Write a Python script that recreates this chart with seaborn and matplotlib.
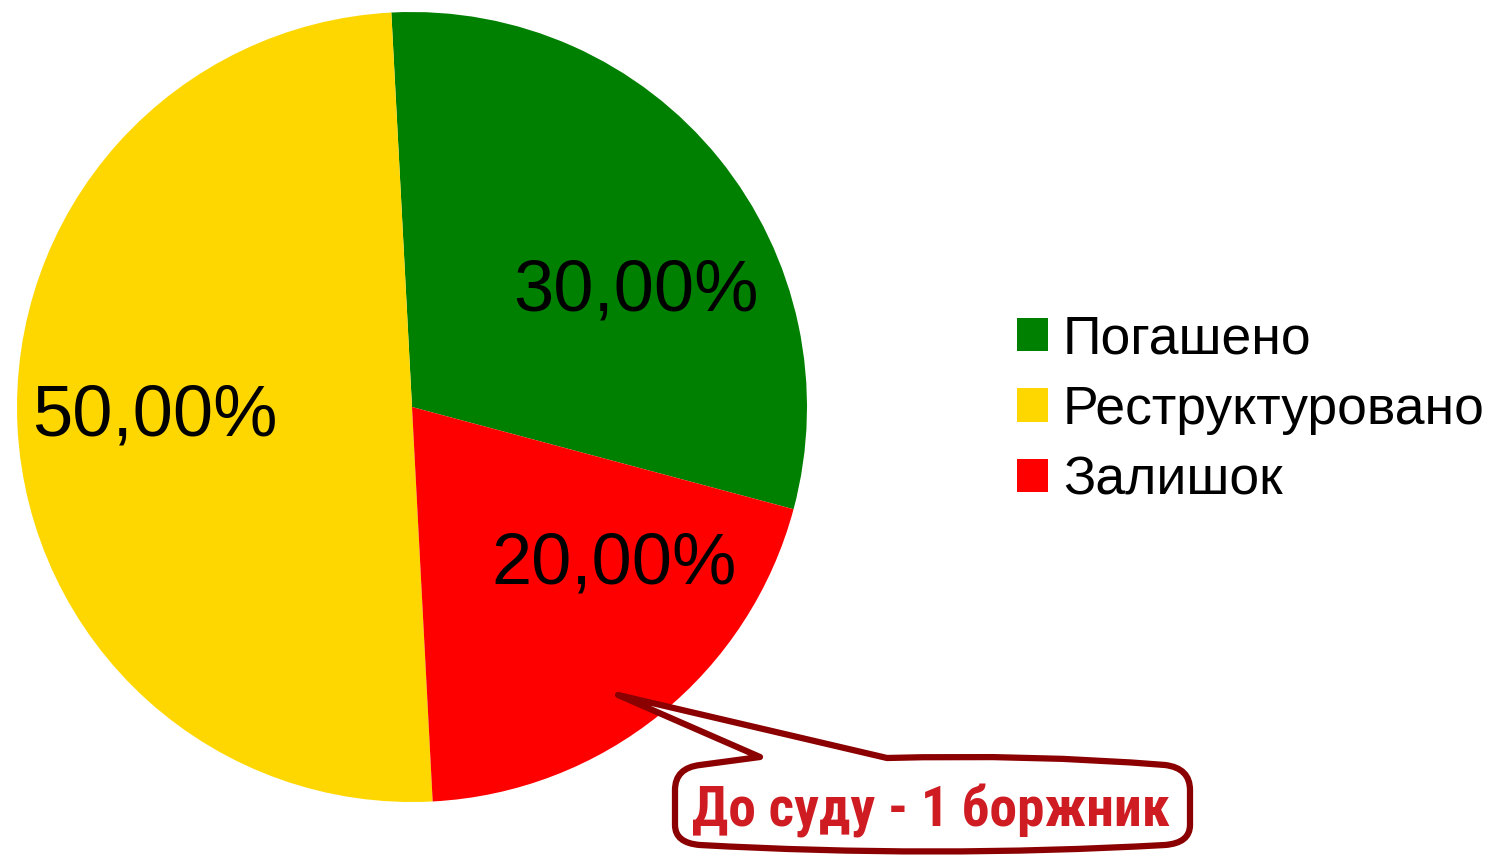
import matplotlib
matplotlib.use('Agg')
from matplotlib import pyplot as plt
from matplotlib.path import Path
from matplotlib.patches import PathPatch, Patch
from matplotlib import font_manager
import seaborn as sns

# data
categories = ['Погашено', 'Реструктуровано', 'Залишок']
shares = [30.0, 50.0, 20.0]
colors = ['#008000', '#FFD700', '#FF0000']
callout_text = 'До суду - 1 боржник'

# label positions (pie data coords) as in the original
label_pos = [(0.567, 0.291), (-0.651, -0.025), (0.511, -0.40)]

sns.set_style('white')
plt.rcParams['font.family'] = ['Liberation Sans', 'DejaVu Sans']

W, H = 1489, 856
fig = plt.figure(figsize=(W / 100, H / 100), dpi=100)

# pie axes: centre (412, 407) px, radius 395 px
cx, cy, r = 412, 407, 395
ax = fig.add_axes([(cx - r) / W, (H - cy - r) / H, 2 * r / W, 2 * r / H])
wedges, texts, autotexts = ax.pie(
    shares, colors=colors, startangle=-15, counterclock=True,
    autopct=lambda p: f'{p:.2f}%'.replace('.', ','),
    wedgeprops={'linewidth': 0, 'edgecolor': 'none'},
    textprops={'fontsize': 52, 'color': 'black'}, radius=1)
for t, pos in zip(autotexts, label_pos):
    t.set_position(pos)
    t.set_ha('center')
    t.set_va('center')
ax.set_xlim(-1, 1)
ax.set_ylim(-1, 1)
ax.set_aspect('equal')
ax.axis('off')

# legend
handles = [Patch(facecolor=c, edgecolor='none') for c in colors]
fig.legend(handles, categories, loc='center left',
           bbox_to_anchor=(1017 / W, 1 - 410 / H), frameon=False,
           fontsize=38.5, labelcolor='black', handlelength=0.58,
           handleheight=0.58, handletextpad=0.28, labelspacing=0.38,
           borderpad=0, borderaxespad=0)

# callout box with pointer (figure pixels -> fraction)
def p(x, y):
    return (x / W, 1 - y / H)

verts = [p(675, 790), p(675, 768), p(700, 765), p(760, 757), p(618, 695),
         p(887, 758), p(1030, 754), p(1165, 765), p(1190, 768), p(1190, 790),
         p(1190, 825), p(1190, 843), p(1165, 845), p(932, 858), p(700, 845),
         p(675, 843), p(675, 825), p(675, 790)]
codes = [Path.MOVETO, Path.CURVE3, Path.CURVE3, Path.LINETO, Path.LINETO,
         Path.LINETO, Path.CURVE3, Path.CURVE3, Path.CURVE3, Path.CURVE3,
         Path.LINETO, Path.CURVE3, Path.CURVE3, Path.CURVE3, Path.CURVE3,
         Path.CURVE3, Path.CURVE3, Path.CLOSEPOLY]
callout = PathPatch(Path(verts, codes), facecolor='white', edgecolor='#8B0000',
                    linewidth=4.5, joinstyle='round', capstyle='round',
                    transform=fig.transFigure)
fig.patches.append(callout)

# condensed bold face if one is installed, otherwise a smaller regular one
names = {f.name for f in font_manager.fontManager.ttflist}
narrow = [n for n in ['Liberation Sans Narrow', 'Roboto Condensed',
                      'Open Sans Condensed', 'DejaVu Sans Condensed']
          if n in names]
if narrow:
    cfam, csize = [narrow[0], 'Liberation Sans'], 40
else:
    cfam, csize = ['Liberation Sans'], 34.5
fig.text(931 / W, 1 - 811 / H, callout_text, ha='center', va='center',
         fontsize=csize, fontweight='bold', color='#CF1B22', family=cfam)

fig.savefig('out.png', dpi=100)
